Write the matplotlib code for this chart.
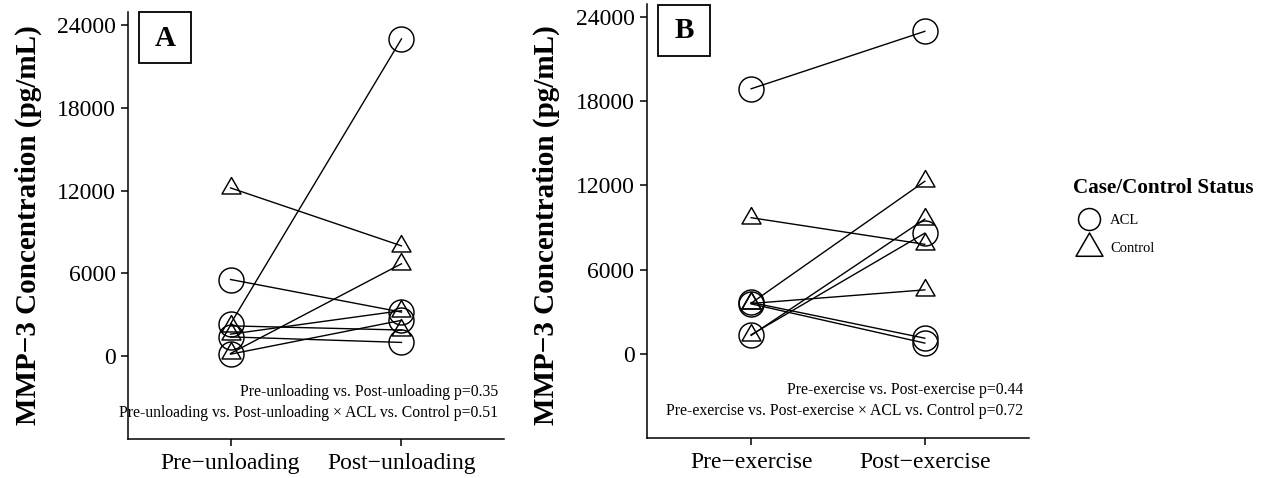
import matplotlib
matplotlib.use("Agg")
import matplotlib.pyplot as plt
from matplotlib.path import Path
from matplotlib.lines import Line2D
from matplotlib.patches import Rectangle

plt.rcParams['font.family'] = ['Liberation Serif', 'DejaVu Serif']

# ---------------- data ----------------
timepoints_A = ["Pre\u2212unloading", "Post\u2212unloading"]
timepoints_B = ["Pre\u2212exercise", "Post\u2212exercise"]
yticks = [0, 6000, 12000, 18000, 24000]

A_acl_pre = [2350, 5560, 1400, 150]
A_acl_post = [23000, 3200, 1000, 2600]
A_ctrl_pre = [12200, 2200, 1600, 200]
A_ctrl_post = [8000, 1900, 3300, 6700]

B_acl_pre = [18900, 3650, 3550, 1350]
B_acl_post = [23000, 1100, 750, 8600]
B_ctrl_pre = [9700, 3600, 3580, 1300]
B_ctrl_post = [7800, 12300, 4550, 9600]

notes_A = ["Pre-unloading vs. Post-unloading p=0.35",
           "Pre-unloading vs. Post-unloading \u00d7 ACL vs. Control p=0.51"]
notes_B = ["Pre-exercise vs. Post-exercise p=0.44",
           "Pre-exercise vs. Post-exercise \u00d7 ACL vs. Control p=0.72"]
groups = ["ACL", "Control"]
legend_title = "Case/Control Status"
ylabel = "MMP\u22123 Concentration (pg/mL)"

# ---------------- style ----------------
W, H = 1270, 478
fig = plt.figure(figsize=(W / 100, H / 100), dpi=100)

tri = Path([(0, 0.57735), (-0.5, -0.288675), (0.5, -0.288675), (0, 0.57735)],
           [Path.MOVETO, Path.LINETO, Path.LINETO, Path.CLOSEPOLY])


def fx(px):
    return px / W


def fy(py):
    return 1 - py / H


def panel(rect, labels, acl_pre, acl_post, ctrl_pre, ctrl_post, notes):
    ax = fig.add_axes(rect)
    for a, b in zip(acl_pre, acl_post):
        ax.plot([1, 2], [a, b], color='black', lw=1.0, marker='o', ms=18,
                mfc='none', mec='black', mew=1.05)
    for a, b in zip(ctrl_pre, ctrl_post):
        ax.plot([1, 2], [a, b], color='black', lw=1.0, marker=tri, ms=15.8,
                mfc='none', mec='black', mew=1.05)
    ax.set_xlim(0.4, 2.6)
    ax.set_ylim(-6000, 24950)
    ax.set_xticks([1, 2])
    ax.set_xticklabels(labels, fontsize=17)
    ax.set_yticks(yticks)
    ax.set_yticklabels([str(v) for v in yticks], fontsize=17)
    for s in ['top', 'right']:
        ax.spines[s].set_visible(False)
    for s in ['left', 'bottom']:
        ax.spines[s].set_linewidth(1.1)
    ax.tick_params(direction='out', length=5, width=1.1)
    ax.tick_params(axis='x', pad=5)
    ax.tick_params(axis='y', pad=4)
    ax.text(2.565, -2600, notes[0], ha='right', va='center', fontsize=11.3)
    ax.text(2.565, -4130, notes[1], ha='right', va='center', fontsize=11.3)
    return ax


axA = panel([fx(128), fy(439), fx(504 - 128), (439 - 12) / H], timepoints_A,
            A_acl_pre, A_acl_post, A_ctrl_pre, A_ctrl_post, notes_A)
axB = panel([fx(647), fy(437.7), fx(1029 - 647), (437.7 - 4) / H], timepoints_B,
            B_acl_pre, B_acl_post, B_ctrl_pre, B_ctrl_post, notes_B)

# y labels
fig.text(fx(28), 0.53, ylabel, rotation=90, ha='center', va='center',
         fontsize=21, fontweight='bold')
fig.text(fx(546), 0.53, ylabel, rotation=90, ha='center', va='center',
         fontsize=21, fontweight='bold')

# panel letters
for (x0, y0, letter) in [(139, 12, 'A'), (658, 5, 'B')]:
    fig.add_artist(Rectangle((fx(x0), fy(y0 + 51)), 52 / W, 51 / H,
                             transform=fig.transFigure, fill=False,
                             edgecolor='black', lw=1.3))
    fig.text(fx(x0 + 26), fy(y0 + 26), letter, ha='center', va='center',
             fontsize=21, fontweight='bold')

# legend
fig.text(fx(1073), fy(188), legend_title, ha='left', va='center',
         fontsize=15.2, fontweight='bold')
fig.add_artist(Line2D([fx(1089)], [fy(219)], transform=fig.transFigure,
                      marker='o', ms=15.8, mfc='none', mec='black', mew=1.1,
                      linestyle='none'))
fig.add_artist(Line2D([fx(1089)], [fy(248)], transform=fig.transFigure,
                      marker=tri, ms=22.4, mfc='none', mec='black', mew=1.1,
                      linestyle='none'))
fig.text(fx(1110), fy(221), groups[0], ha='left', va='center', fontsize=10.5)
fig.text(fx(1110), fy(249), groups[1], ha='left', va='center', fontsize=10.5)

fig.savefig("out.png", dpi=100)
